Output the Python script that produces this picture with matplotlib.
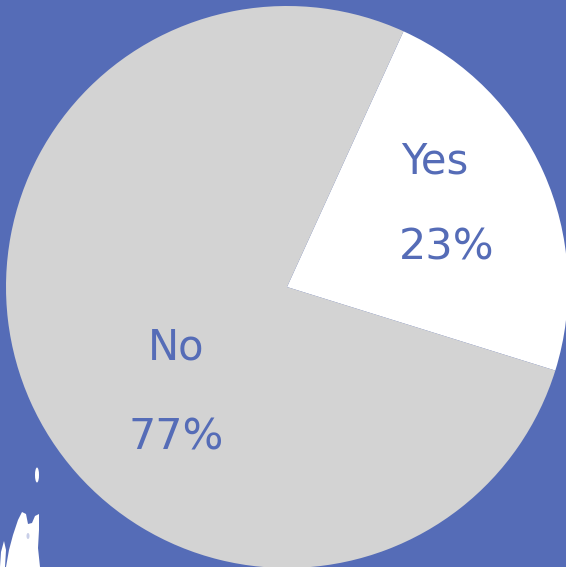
import matplotlib
matplotlib.use("Agg")
import matplotlib.pyplot as plt
from matplotlib.patches import Polygon, Ellipse

# Survey answer shares
categories = ["Yes", "No"]
shares = [23, 77]
slice_colors = ["#ffffff", "#d3d3d3"]

BG = "#556cb7"
TEXT = "#556cb7"

W, H = 566, 567
fig = plt.figure(figsize=(W / 100, H / 100), dpi=100, facecolor=BG)
ax = fig.add_axes([0, 0, 1, 1])
ax.set_facecolor(BG)

cx, cy, r = 287, H - 287, 281
wedges, _ = ax.pie(
    shares,
    colors=slice_colors,
    startangle=65.5,
    counterclock=False,
    center=(cx, cy),
    radius=r,
    wedgeprops=dict(linewidth=0),
    frame=True,
)
ax.set_xlim(0, W)
ax.set_ylim(0, H)
ax.set_aspect("equal")
ax.axis("off")

# thin divider along the top edge of the "Yes" slice
wedges[0].set_edgecolor("none")
wedges[1].set_edgecolor("none")

# category name above its percentage
label_pos = {
    "Yes": ((435, 161), (447, 248)),
    "No": ((176, 347), (176, 437)),
}
for cat, val in zip(categories, shares):
    (nx, ny), (px, py) = label_pos[cat]
    ax.text(nx, H - ny, cat, ha="center", va="center", fontsize=30,
            color=TEXT, family="DejaVu Sans", fontweight="medium")
    ax.text(px, H - py, f"{val}%", ha="center", va="center", fontsize=31,
            color=TEXT, family="DejaVu Sans", fontweight="medium")

# white paint marks in the lower-left corner
def img_poly(pts):
    return [(x, H - y) for x, y in pts]

ax.add_patch(Polygon(img_poly([(6, 567), (9, 550), (13, 535), (18, 520), (22, 512),
                               (26, 514), (28, 524), (32, 523), (35, 516), (39, 514),
                               (39, 530), (38, 548), (40, 567)]),
                     closed=True, facecolor="white", edgecolor="none"))
ax.add_patch(Ellipse((28, H - 536), 3, 6, facecolor="#c9cfe8", edgecolor="none"))
ax.add_patch(Polygon(img_poly([(0, 567), (1, 552), (4, 541), (6, 550), (5, 567)]),
                     closed=True, facecolor="white", edgecolor="none"))
ax.add_patch(Ellipse((37, H - 475), 4, 15, facecolor="white", edgecolor="none"))

fig.savefig("out.png", dpi=100, facecolor=BG)
